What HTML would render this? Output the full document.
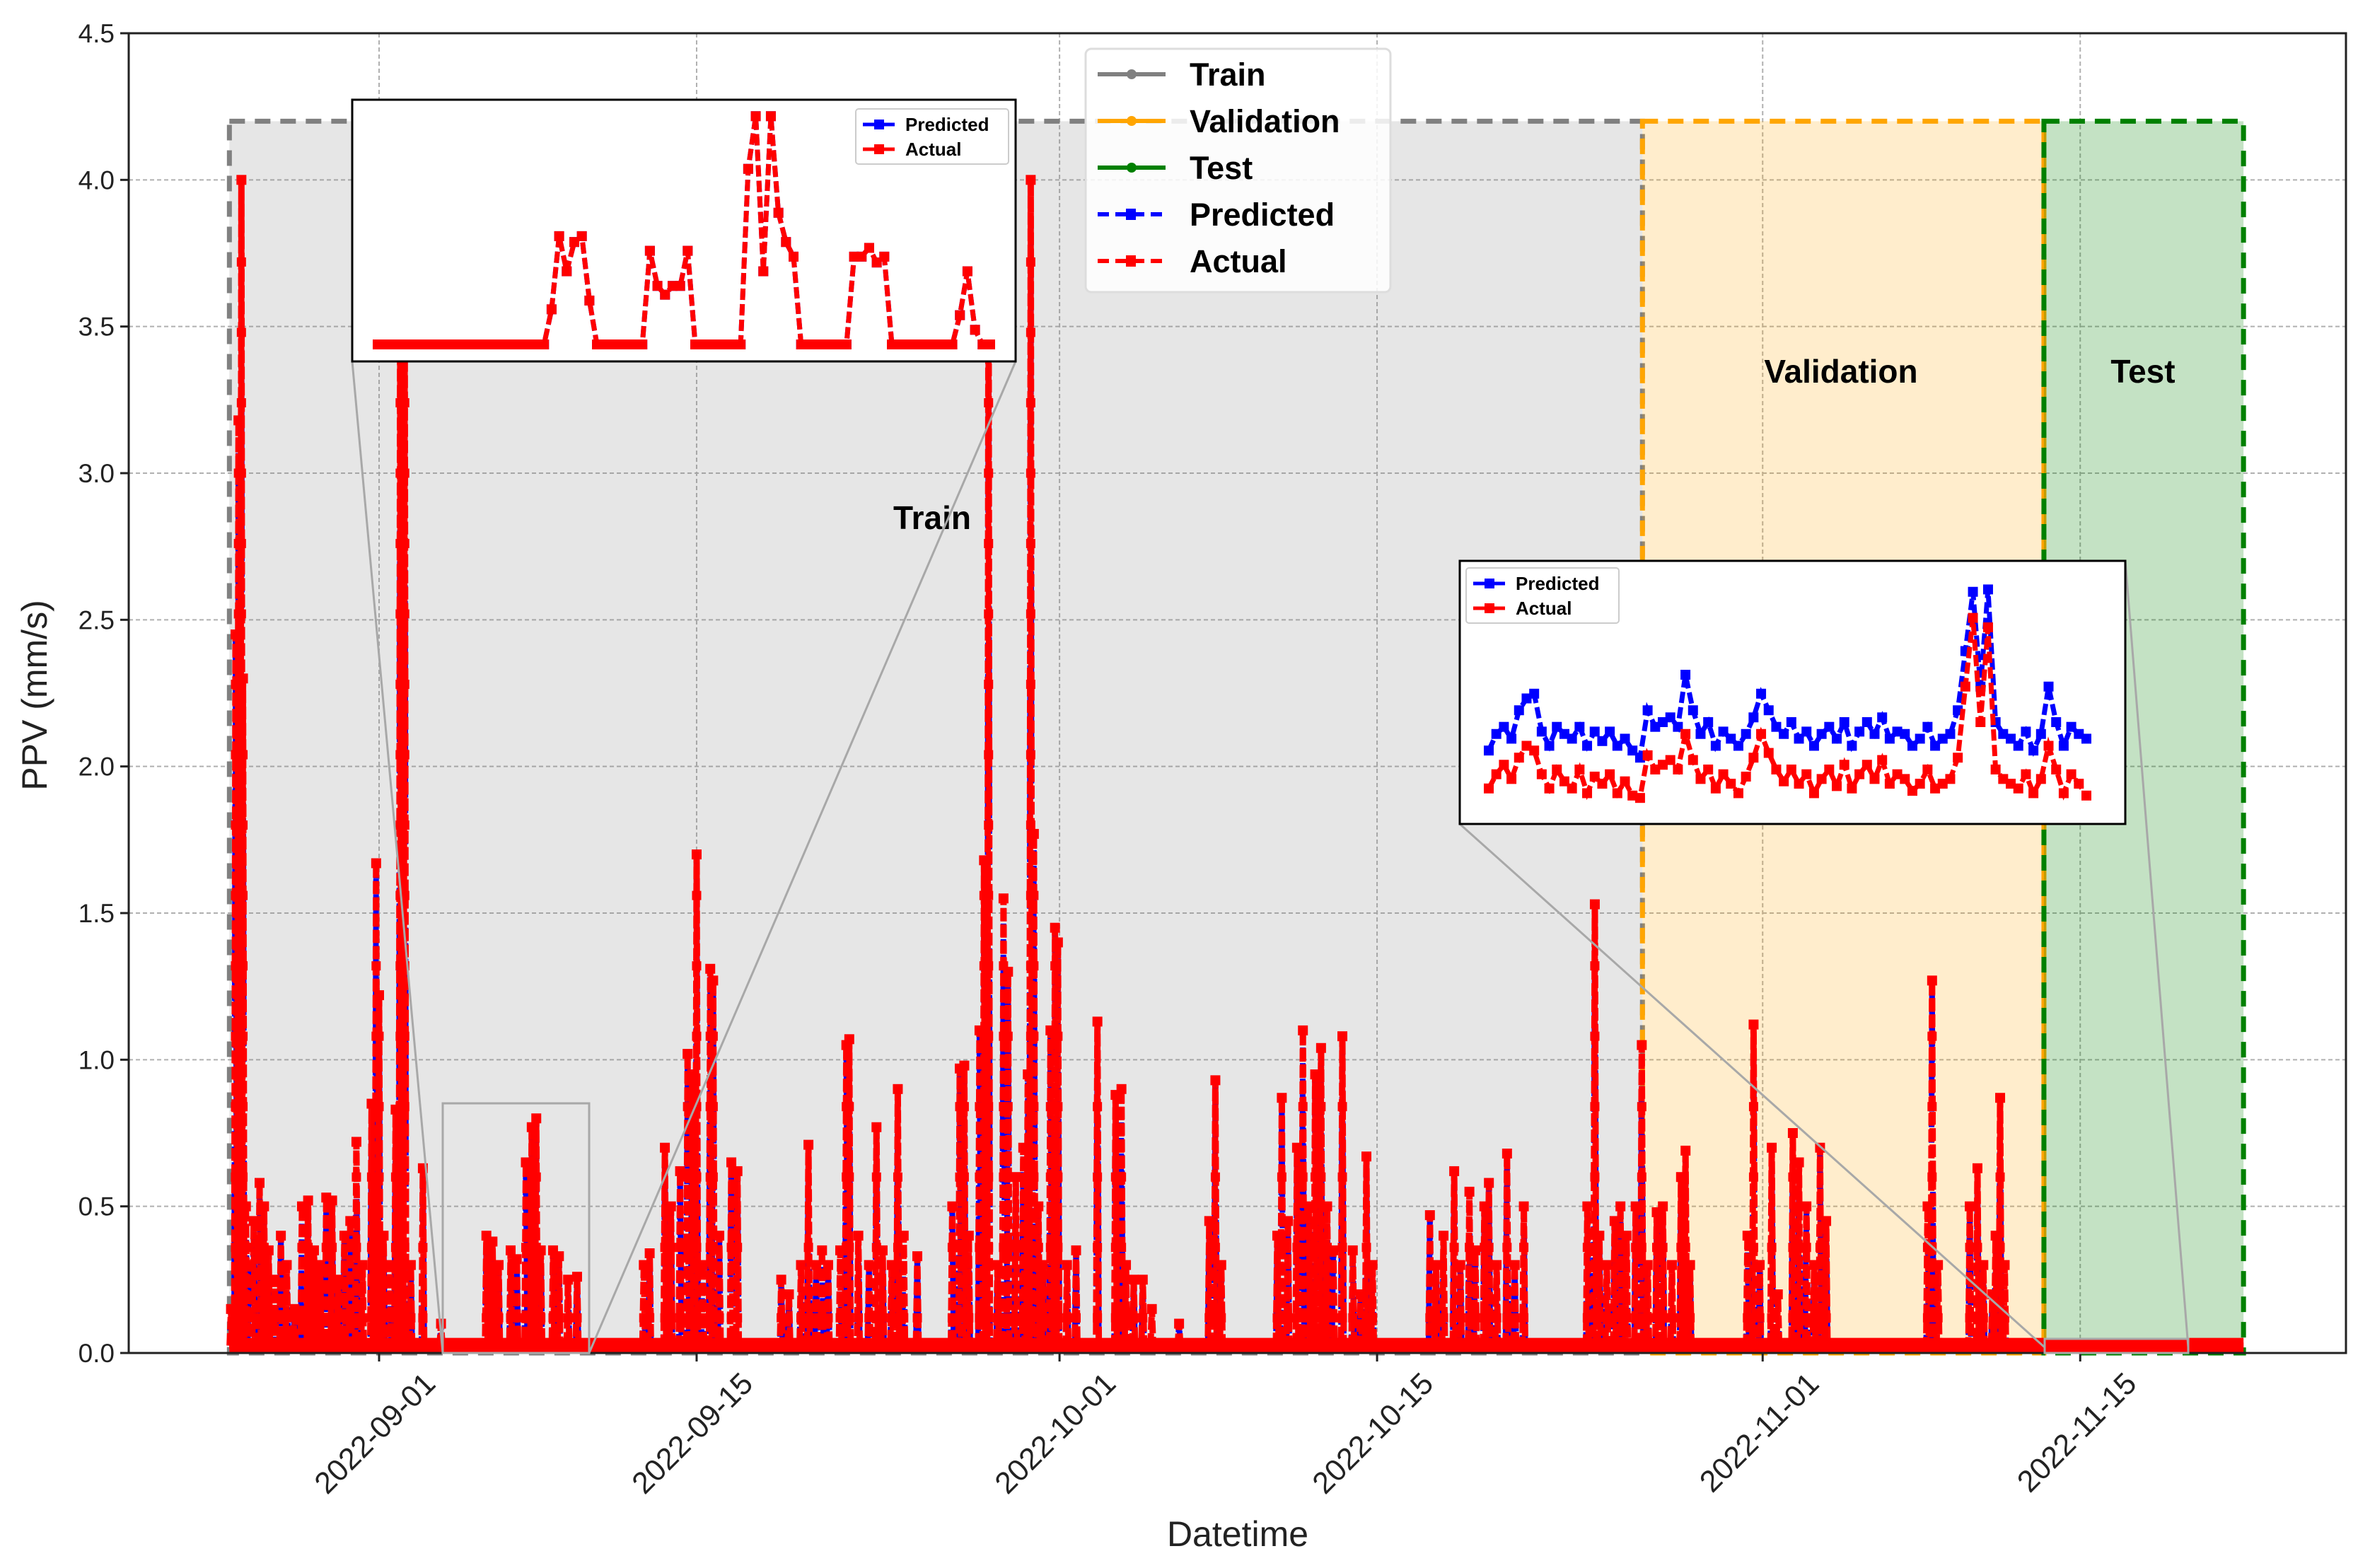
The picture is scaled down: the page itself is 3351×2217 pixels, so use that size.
<!DOCTYPE html>
<html><head><meta charset="utf-8"><style>
html,body{margin:0;padding:0;background:#fff;}
svg{display:block;font-family:"Liberation Sans","DejaVu Sans",sans-serif;}
</style></head><body>
<svg id="chart" width="3351" height="2217" viewBox="0 0 3351 2217" xmlns="http://www.w3.org/2000/svg">
<g id="bg"></g><g id="grid"></g><g id="regions"></g><g id="series"></g><g id="axes"></g><g id="insets"></g><g id="legend"></g>
</svg>
<script>
const yTicks=[0,0.5,1.0,1.5,2.0,2.5,3.0,3.5,4.0,4.5];
const xTickDays=[0,14,30,44,61,75];
const xTickLabels=["2022-09-01","2022-09-15","2022-10-01","2022-10-15","2022-11-01","2022-11-15"];
const dataStart=-6.6, dataEnd=82.2, valStart=55.7, testStart=73.4, regionTop=4.2;
const baselineValue=0.025;
const spikeDays=[-6.53,-6.33,-6.2,-6.07,-6.0,-5.87,-5.73,-5.53,-5.27,-5.07,-4.87,-4.6,-4.33,-4.07,-3.73,-3.4,-3.13,-2.87,-2.6,-2.33,-2.07,-1.8,-1.53,-1.27,-1.0,-0.73,-0.33,-0.13,0,0.2,0.47,0.73,0.93,1.13,1.4,1.93,2.73,4.73,5.0,5.27,5.8,6.07,6.47,6.73,6.93,7.13,7.67,7.93,8.33,8.73,11.67,11.93,12.6,12.87,13.27,13.6,13.8,14.0,14.27,14.6,14.73,15.0,15.53,15.8,17.73,18.07,18.6,18.93,19.27,19.53,19.8,20.33,20.6,20.73,21.13,21.6,21.93,22.2,22.6,22.87,23.13,23.73,25.27,25.6,25.8,26.0,26.47,26.67,26.87,27.27,27.53,27.73,28.07,28.4,28.6,28.73,28.87,29.07,29.27,29.6,29.8,29.93,30.33,30.73,31.67,32.47,32.73,32.93,33.27,33.67,34.07,35.27,36.6,36.87,37.13,39.6,39.8,40.07,40.47,40.73,41.0,41.27,41.53,41.8,42.07,42.47,42.93,43.27,43.53,43.8,46.33,46.6,46.93,47.4,47.67,48.07,48.33,48.73,48.93,49.27,49.73,50.07,50.47,53.27,53.6,53.8,54.13,54.47,54.73,55.0,55.4,55.67,55.93,56.33,56.6,57.0,57.4,57.6,57.8,60.33,60.6,60.87,61.4,61.67,62.33,62.6,62.93,63.27,63.53,63.8,68.27,68.47,68.73,70.13,70.47,70.73,71.13,71.27,71.47,71.67];
const spikeValues=[0.15,2.45,3.18,4.0,2.3,0.5,0.3,0.45,0.58,0.5,0.35,0.25,0.4,0.3,0.15,0.5,0.52,0.35,0.3,0.53,0.52,0.25,0.4,0.45,0.72,0.3,0.85,1.67,1.22,0.4,0.3,0.83,3.6,3.6,0.3,0.63,0.1,0.4,0.38,0.3,0.35,0.32,0.65,0.77,0.8,0.35,0.35,0.33,0.25,0.26,0.3,0.34,0.7,0.5,0.62,1.02,0.95,1.7,0.3,1.31,1.27,0.4,0.65,0.62,0.25,0.2,0.3,0.71,0.3,0.35,0.3,0.35,1.05,1.07,0.4,0.3,0.77,0.35,0.3,0.9,0.4,0.33,0.5,0.97,0.98,0.4,1.1,1.68,3.9,0.3,1.55,1.3,0.6,0.7,0.95,4.0,1.77,0.5,0.3,1.1,1.45,1.4,0.3,0.35,1.13,0.88,0.9,0.3,0.25,0.25,0.15,0.1,0.45,0.93,0.3,0.4,0.87,0.45,0.7,1.1,0.5,0.95,1.04,0.5,0.35,1.08,0.35,0.2,0.67,0.3,0.47,0.3,0.4,0.62,0.3,0.55,0.35,0.5,0.58,0.3,0.68,0.3,0.5,0.5,1.53,0.4,0.3,0.45,0.5,0.4,0.5,1.05,0.3,0.48,0.5,0.3,0.6,0.69,0.3,0.4,1.12,0.3,0.7,0.2,0.75,0.65,0.5,0.3,0.7,0.45,0.5,1.27,0.3,0.5,0.63,0.3,0.2,0.4,0.87,0.3];
const inset1Values=[0,0,0,0,0,0,0,0,0,0,0,0,0,0,0,0,0,0,0,0,0,0,0,0.12,0.37,0.25,0.35,0.37,0.15,0,0,0,0,0,0,0,0.32,0.2,0.17,0.2,0.2,0.32,0,0,0,0,0,0,0,0.6,0.78,0.25,0.78,0.45,0.35,0.3,0,0,0,0,0,0,0,0.3,0.3,0.33,0.28,0.3,0,0,0,0,0,0,0,0,0,0.1,0.25,0.05,0,0];
const inset2Predicted=[.28,.35,.38,.33,.45,.5,.52,.36,.3,.38,.35,.33,.38,.3,.36,.32,.36,.3,.33,.28,.25,.45,.38,.4,.42,.38,.6,.45,.35,.4,.3,.36,.33,.3,.35,.42,.52,.45,.38,.35,.4,.33,.36,.3,.35,.38,.33,.4,.3,.36,.4,.35,.42,.33,.36,.35,.3,.33,.38,.3,.33,.35,.45,.7,.95,.55,.96,.4,.35,.33,.3,.36,.28,.35,.55,.4,.3,.38,.35,.33];
const inset2Actual=[.12,.18,.22,.16,.25,.3,.28,.18,.12,.2,.15,.12,.2,.1,.17,.14,.18,.1,.15,.09,.08,.26,.2,.22,.24,.2,.35,.24,.16,.2,.12,.18,.14,.1,.17,.25,.35,.27,.2,.15,.2,.14,.18,.1,.16,.2,.13,.22,.12,.18,.22,.16,.24,.14,.18,.16,.11,.14,.2,.12,.14,.16,.25,.55,.84,.4,.8,.2,.16,.14,.12,.18,.1,.16,.3,.2,.1,.18,.14,.09];

const NS="http://www.w3.org/2000/svg";
const L=182,R=3317,T=47,B=1913;
const X=d=>536+d*32.07;
const Y=v=>B-v*(B-T)/4.5;
function el(p,tag,a,txt){const e=document.createElementNS(NS,tag);for(const k in a)e.setAttribute(k,a[k]);if(txt!==undefined)e.textContent=txt;p.appendChild(e);return e;}
const g=id=>document.getElementById(id);

let e=el(g('bg'),'rect',{x:L,y:T,width:R-L,height:B-T,fill:'#fff'});



yTicks.forEach(v=>{let l=el(g('grid'),'line',{x1:L,x2:R,y1:Y(v),y2:Y(v),stroke:'#b0b0b0','stroke-width':2,'stroke-dasharray':'6,4'});

});
xTickDays.forEach(d=>{let l=el(g('grid'),'line',{x1:X(d),x2:X(d),y1:T,y2:B,stroke:'#b0b0b0','stroke-width':2,'stroke-dasharray':'6,4'});

});

function region(d0,d1,fill,stroke,name){
  const r=el(g('regions'),'rect',{x:X(d0),y:Y(regionTop),width:X(d1)-X(d0),height:B-Y(regionTop),fill:fill,stroke:stroke,'stroke-width':7,'stroke-dasharray':'22,14'});
  
  
}
region(dataStart,valStart,'rgba(128,128,128,0.2)','#808080','train-region');
region(valStart,testStart,'rgba(255,165,0,0.2)','#ffa500','validation-region');
region(testStart,dataEnd,'rgba(0,128,0,0.23)','#008000','test-region');
[['Train',1318,748,'train-label'],['Validation',2603,541,'validation-label'],['Test',3030,541,'test-label']].forEach(t=>{
  const tx=el(g('regions'),'text',{x:t[1],y:t[2],'font-size':46,'font-weight':'bold','text-anchor':'middle',fill:'#000'},t[0]);
  
  
});

const sg=g('series');
function buildPts(){const pts=[[dataStart,baselineValue]];spikeDays.forEach((d,i)=>{pts.push([d-0.06,baselineValue]);pts.push([d,spikeValues[i]]);pts.push([d+0.06,baselineValue]);});pts.push([dataEnd,baselineValue]);return pts;}
const pts=buildPts();
const ptsStr=pts.map(p=>X(p[0]).toFixed(1)+','+Y(p[1]).toFixed(1)).join(' ');
let pl=el(sg,'polyline',{points:ptsStr,fill:'none',stroke:'#0000ff','stroke-width':8,'stroke-dasharray':'14,8'});


let bl=el(sg,'line',{x1:X(dataStart),x2:X(dataEnd),y1:Y(baselineValue),y2:Y(baselineValue),stroke:'#ff0000','stroke-width':22});


pl=el(sg,'polyline',{points:ptsStr,fill:'none',stroke:'#ff0000','stroke-width':9,'stroke-dasharray':'18,5'});


spikeDays.forEach((d,i)=>{
  const v=spikeValues[i];
  const m=el(sg,'rect',{x:X(d)-7,y:Y(v)-7,width:14,height:14,fill:'#ff0000'});
  
  
  const n=Math.floor(v/0.12);
  for(let k=1;k<n;k+=2){const mm=el(sg,'rect',{x:X(d)-6.5,y:Y(k*0.12)-6.5,width:13,height:13,fill:'#ff0000'});
  
  }
});

const ax=g('axes');
let fr=el(ax,'rect',{x:L,y:T,width:R-L,height:B-T,fill:'none',stroke:'#222','stroke-width':3});


yTicks.forEach(v=>{
  let t=el(ax,'line',{x1:L-12,x2:L,y1:Y(v),y2:Y(v),stroke:'#222','stroke-width':3});
  
  
  t=el(ax,'text',{x:L-20,y:Y(v)+13,'font-size':37,'text-anchor':'end',fill:'#222'},v.toFixed(1));
  
  
});
xTickDays.forEach((d,i)=>{
  let t=el(ax,'line',{x1:X(d),x2:X(d),y1:B,y2:B+12,stroke:'#222','stroke-width':3});
  
  
  const ax0=X(d)+82, ay0=B+46;
  t=el(ax,'text',{x:ax0,y:ay0,'font-size':43,'text-anchor':'end',fill:'#222',transform:`rotate(-45 ${ax0} ${ay0})`},xTickLabels[i]);
  
  
});
let at=el(ax,'text',{x:1750,y:2186,'font-size':50,'text-anchor':'middle',fill:'#222'},'Datetime');


at=el(ax,'text',{x:66,y:983,'font-size':50,'text-anchor':'middle',fill:'#222',transform:'rotate(-90 66 983)'},'PPV (mm/s)');



const ig=g('insets');
function connector(x1,y1,x2,y2){const l=el(ig,'line',{x1,y1,x2,y2,stroke:'#a8a8a8','stroke-width':3});

}
let zr=el(ig,'rect',{x:626,y:1560,width:207,height:353,fill:'none',stroke:'#a8a8a8','stroke-width':3});


zr=el(ig,'rect',{x:2891,y:1893,width:203,height:20,fill:'none',stroke:'#a8a8a8','stroke-width':3});


connector(498,511,626,1913);connector(1436,511,833,1913);
connector(2064,1165,2891,1905);connector(3005,793,3094,1905);

function inset(x,y,w,h,name,series,x0,x1,yb,yt,vmax,lx,ly){
  const gg=el(ig,'g',{});
  
  
  el(gg,'rect',{x,y,width:w,height:h,fill:'#fff',stroke:'#000','stroke-width':3});
  series.forEach(s=>{
    const n=s.vals.length;
    const px=i=>x0+(x1-x0)*i/(n-1), py=v=>yb-(yb-yt)*v/vmax;
    const p=el(gg,'polyline',{points:s.vals.map((v,i)=>px(i).toFixed(1)+','+py(v).toFixed(1)).join(' '),fill:'none',stroke:s.c,'stroke-width':7,'stroke-dasharray':'16,6'});
    
    
    s.vals.forEach((v,i)=>{const m=el(gg,'rect',{x:px(i)-7,y:py(v)-7,width:14,height:14,fill:s.c});
    
    });
  });
  const lg=el(gg,'g',{});
  
  
  el(lg,'rect',{x:lx,y:ly,width:216,height:78,fill:'#fff',stroke:'#ccc','stroke-width':2,rx:4});
  [['Predicted','#0000ff'],['Actual','#ff0000']].forEach((it,k)=>{
    const yy=ly+22+k*35;
    el(lg,'line',{x1:lx+10,x2:lx+55,y1:yy,y2:yy,stroke:it[1],'stroke-width':5});
    el(lg,'rect',{x:lx+26,y:yy-7,width:14,height:14,fill:it[1]});
    const t=el(lg,'text',{x:lx+70,y:yy+9,'font-size':26,'font-weight':'bold',fill:'#000'},it[0]);
    
    
  });
}
inset(498,141,938,370,'inset-zoom-1',[{vals:inset1Values,c:'#0000ff',name:'inset1-predicted'},{vals:inset1Values,c:'#ff0000',name:'inset1-actual'}],534,1400,487,156,0.8,1210,154);
inset(2064,793,941,372,'inset-zoom-2',[{vals:inset2Predicted,c:'#0000ff',name:'inset2-predicted'},{vals:inset2Actual,c:'#ff0000',name:'inset2-actual'}],2105,2950,1155,820,1.0,2073,803);

const lgd=g('legend');
let lb=el(lgd,'rect',{x:1535,y:69,width:431,height:344,fill:'rgba(255,255,255,0.85)',stroke:'#ddd','stroke-width':3,rx:8});


[['Train','#808080',false],['Validation','#ffa500',false],['Test','#008000',false],['Predicted','#0000ff',true],['Actual','#ff0000',true]].forEach((it,k)=>{
  const yy=105+k*66;
  const eg=el(lgd,'g',{});
  
  
  el(eg,'line',{x1:1552,x2:1648,y1:yy,y2:yy,stroke:it[1],'stroke-width':6,'stroke-dasharray':it[2]?'16,9':'none'});
  if(it[2])el(eg,'rect',{x:1592,y:yy-8,width:14,height:16,fill:it[1]});
  else el(eg,'circle',{cx:1600,cy:yy,r:7,fill:it[1]});
  el(eg,'text',{x:1682,y:yy+16,'font-size':45,'font-weight':'bold',fill:'#000'},it[0]);
});
</script>
</body></html>
